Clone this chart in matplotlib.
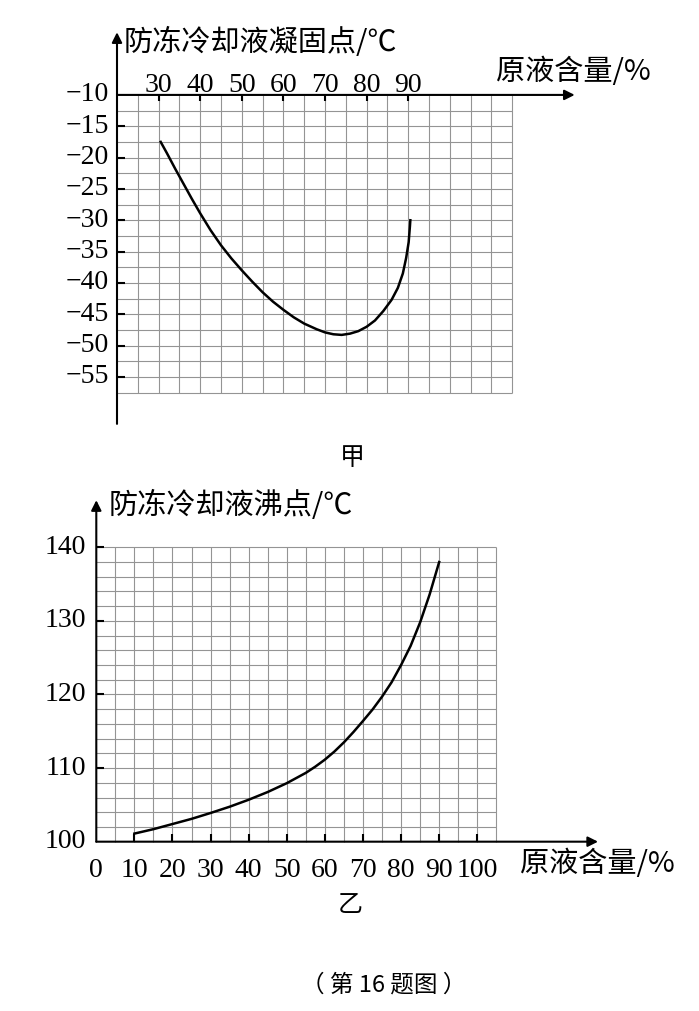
import matplotlib.pyplot as plt
import numpy as np

plt.rcParams['font.family'] = ['Noto Sans CJK SC', 'DejaVu Sans']

#%% Data

# 甲: freezing point vs concentrate content
freeze_x = [30.5, 32, 34, 36, 38, 40, 42.5, 45, 47.5, 50, 52.5, 55, 57.5, 60, 62.5, 65,
            68, 70, 72, 74, 76, 78, 80, 82, 84, 86, 87.5, 88.7, 89.5, 90.1, 90.4, 90.5]
freeze_y = [-17.5, -19.3, -21.8, -24.2, -26.6, -28.9, -31.6, -34.0, -36.1, -38.0, -39.8,
            -41.5, -43.0, -44.3, -45.5, -46.5, -47.4, -47.9, -48.2, -48.3, -48.1, -47.7,
            -47.0, -46.0, -44.5, -42.7, -40.8, -38.5, -36.0, -33.5, -31.0, -30.0]
freeze_xticks = [30, 40, 50, 60, 70, 80, 90]
freeze_yticks = [-10, -15, -20, -25, -30, -35, -40, -45, -50, -55]

# 乙: boiling point vs concentrate content
boil_x = [10, 15, 20, 25, 30, 35, 40, 45, 50, 55, 57.5, 60, 62.5, 65, 67.5, 70, 72.5, 75,
          77.5, 80, 82.5, 85, 87.5, 90]
boil_y = [101.1, 101.7, 102.4, 103.1, 103.9, 104.75, 105.7, 106.75, 107.95, 109.35, 110.2,
          111.15, 112.25, 113.5, 114.9, 116.4, 117.95, 119.7, 121.65, 124.0, 126.6, 129.8,
          133.6, 138.0]
boil_xticks = [0, 10, 20, 30, 40, 50, 60, 70, 80, 90, 100]
boil_yticks = [100, 110, 120, 130, 140]

W, H = 699, 1011
grid_c = '0.58'
num_font = 'Liberation Serif'
num_size = 20
cjk_size = 21
arrow = dict(arrowstyle='-|>', color='k', lw=1.5, mutation_scale=15, shrinkA=0, shrinkB=0)

fig = plt.figure(figsize=(W / 100, H / 100), dpi=100)

#%% Chart 甲
ax1 = fig.add_axes([117 / W, 1 - 427 / H, 466 / W, 401 / H])
ax1.set_xlim(20, 132)
ax1.set_ylim(-63, 1)
ax1.axis('off')

ax1.vlines(np.arange(25, 116, 5), -57.5, -10, colors=grid_c, lw=0.8)
ax1.hlines(np.arange(-57.5, -10, 2.5), 20, 115, colors=grid_c, lw=0.8)

ax1.annotate('', xy=(130, -10), xytext=(20, -10), arrowprops=arrow)
ax1.annotate('', xy=(20, 0), xytext=(20, -62.5), arrowprops=arrow)

ax1.vlines(freeze_xticks, -10.9, -10, colors='k', lw=1.5)
ax1.hlines(freeze_yticks[1:], 20, 21.9, colors='k', lw=1.5)

for t in freeze_xticks:
    ax1.text(t, -9.5, str(t), ha='center', va='baseline', fontsize=num_size, family=num_font)
for t in freeze_yticks:
    ax1.text(18.0, t, f'\u2212{abs(t)}', ha='right', va='center', fontsize=num_size,
             family=num_font)

ax1.plot(freeze_x, freeze_y, color='k', lw=1.8, solid_joinstyle='round')

fig.text(124 / W, 1 - 43 / H, '防冻冷却液凝固点/℃', fontsize=cjk_size, va='center',
         weight='medium')
fig.text(496 / W, 1 - 72 / H, '原液含量/%', fontsize=cjk_size, va='center', weight='medium')
fig.text(352 / W, 1 - 458 / H, '甲', fontsize=18, ha='center', va='center')

#%% Chart 乙
ax2 = fig.add_axes([96.3 / W, 1 - 856.4 / H, 510.5 / W, 364.3 / H])
ax2.set_xlim(0, 134)
ax2.set_ylim(98, 147.5)
ax2.axis('off')

ax2.vlines(np.arange(5, 106, 5), 100, 140, colors=grid_c, lw=0.8)
ax2.hlines(np.arange(102, 141, 2), 0, 105, colors=grid_c, lw=0.8)

ax2.annotate('', xy=(131.7, 100), xytext=(0, 100), arrowprops=arrow)
ax2.annotate('', xy=(0, 146.4), xytext=(0, 100), arrowprops=arrow)

ax2.vlines(boil_xticks[1:], 100, 101, colors='k', lw=1.5)
ax2.hlines(boil_yticks[1:], 0, 2.1, colors='k', lw=1.5)

for t in boil_xticks:
    ax2.text(t, 97.8, str(t), ha='center', va='top', fontsize=num_size, family=num_font)
for t in boil_yticks:
    ax2.text(-2.8, t, str(t), ha='right', va='center', fontsize=num_size, family=num_font)

ax2.plot(boil_x, boil_y, color='k', lw=1.8, solid_joinstyle='round')

fig.text(109 / W, 1 - 506 / H, '防冻冷却液沸点/℃', fontsize=cjk_size, va='center',
         weight='medium')
fig.text(520 / W, 1 - 864 / H, '原液含量/%', fontsize=cjk_size, va='center', weight='medium')
fig.text(350 / W, 1 - 905 / H, '乙', fontsize=18, ha='center', va='center')

fig.text(384 / W, 1 - 985 / H, '（ 第 16 题图 ）', fontsize=17, ha='center', va='center')

fig.savefig('out.png', dpi=100)
